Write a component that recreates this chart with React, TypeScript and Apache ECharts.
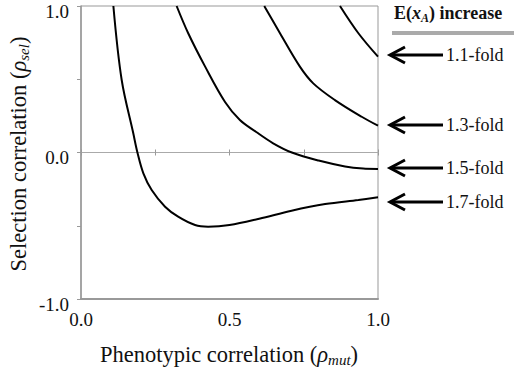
import React, { useEffect, useRef } from "react";
import * as echarts from "echarts";

const xTickLabels = ["0.0", "0.5", "1.0"];
const yTickLabels = ["1.0", "0.0", "-1.0"];

const fold11: [number, number][] = [
  [0.872, 1.0], [0.934, 0.814], [1.0, 0.654],
];
const fold13: [number, number][] = [
  [0.617, 1.0], [0.67, 0.814], [0.737, 0.586], [0.782, 0.472], [0.855, 0.358], [0.945, 0.244], [1.0, 0.183],
];
const fold15: [number, number][] = [
  [0.322, 1.0], [0.361, 0.814], [0.418, 0.586], [0.485, 0.345], [0.535, 0.222], [0.59, 0.14],
  [0.647, 0.063], [0.71, 0.0], [0.8, -0.055], [0.889, -0.095], [0.95, -0.11], [1.0, -0.113],
];
const fold17: [number, number][] = [
  [0.109, 1.0], [0.137, 0.495], [0.176, 0.131], [0.19, 0.0], [0.21, -0.142], [0.238, -0.256],
  [0.283, -0.37], [0.327, -0.438], [0.384, -0.495], [0.428, -0.506], [0.5, -0.495], [0.6, -0.452],
  [0.709, -0.397], [0.822, -0.352], [0.934, -0.324], [1.0, -0.306],
];

const seriesNames = ["1.1-fold", "1.3-fold", "1.5-fold", "1.7-fold"];
const seriesData = [fold11, fold13, fold15, fold17];
const arrowY = [55, 125, 168, 202];
const xTitle = ["Phenotypic correlation (", "ρ", "mut", ")"];
const yTitle = ["Selection correlation (", "ρ", "sel", ")"];

const SERIF = "'Liberation Serif', 'DejaVu Serif', serif";

export default function App() {
  const ref = useRef<HTMLDivElement>(null);
  useEffect(() => {
    if (!ref.current) return;
    const chart = echarts.init(ref.current, undefined, { renderer: "svg" });
    const base = { fontFamily: SERIF, color: "#111" };
    const nameRich = {
      n: { fontFamily: SERIF, fontSize: 22.5, fill: "#111", lineHeight: 26 },
      g: { fontFamily: SERIF, fontSize: 22.5, fontStyle: "italic", fill: "#111", lineHeight: 26 },
      s: { fontFamily: SERIF, fontSize: 15, fontStyle: "italic", fill: "#111", lineHeight: 17, verticalAlign: "bottom" },
    };
    const richTitle = (t: string[]) => `{n|${t[0]}}{g|${t[1]}}{s|${t[2]}}{n|${t[3]}}`;
    const graphics: any[] = [
      {
        type: "text",
        left: 394,
        top: 4,
        style: {
          text: "{b|E(}{i|x}{sub|A}{b|) increase}",
          rich: {
            b: { fontFamily: SERIF, fontSize: 18, fontWeight: "bold", fill: "#111", lineHeight: 22 },
            i: { fontFamily: SERIF, fontSize: 18, fontWeight: "bold", fontStyle: "italic", fill: "#111", lineHeight: 22 },
            sub: { fontFamily: SERIF, fontSize: 12, fontWeight: "bold", fontStyle: "italic", fill: "#111", lineHeight: 12, verticalAlign: "bottom", padding: [6, 0, 0, 0] },
          },
        },
      },
      {
        type: "line",
        shape: { x1: 392, y1: 33, x2: 514, y2: 33 },
        style: { stroke: "#aaa", lineWidth: 4 },
      },
      {
        type: "text",
        x: 229,
        y: 354,
        style: { text: richTitle(xTitle), rich: nameRich, align: "center", verticalAlign: "middle" },
      },
      {
        type: "text",
        x: 18,
        y: 154,
        rotation: Math.PI / 2,
        style: { text: richTitle(yTitle), rich: nameRich, align: "center", verticalAlign: "middle" },
      },
    ];
    seriesNames.forEach((name, i) => {
      const y = arrowY[i];
      graphics.push({
        type: "line",
        shape: { x1: 391, y1: y, x2: 443, y2: y },
        style: { stroke: "#000", lineWidth: 3 },
      });
      graphics.push({
        type: "polyline",
        shape: { points: [[405, y - 8], [390, y], [405, y + 8]] },
        style: { stroke: "#000", lineWidth: 3, fill: null },
      });
      graphics.push({
        type: "text",
        x: 446,
        y: y,
        style: { text: name, fontFamily: SERIF, fontSize: 18, fill: "#111", verticalAlign: "middle", align: "left" },
      });
    });

    const option: any = {
      animation: false,
      grid: { left: 81, top: 6, right: 136, bottom: 71, show: true, borderColor: "#999", borderWidth: 1, outerBoundsMode: "none", containLabel: false },
      xAxis: [
        {
          type: "value", min: 0, max: 1, interval: 0.5, position: "bottom",
          axisLine: { onZero: false, lineStyle: { color: "#999", width: 2 } },
          axisTick: { show: false },
          splitLine: { show: false },
          axisLabel: {
            margin: 11, fontSize: 19, ...base,
            formatter: (v: number) => xTickLabels[Math.round(v * 2)] ?? "",
          },
        },
        {
          type: "value", min: 0, max: 1, interval: 0.25, position: "bottom",
          axisLine: { onZero: true, onZeroAxisIndex: 0, lineStyle: { color: "#aaa", width: 1 } },
          axisTick: { show: true, length: 3, lineStyle: { color: "#999" } },
          axisLabel: { show: false },
          splitLine: { show: false },
        },
        {
          type: "value", min: 0, max: 1, interval: 0.25, position: "bottom",
          axisLine: { show: false, onZero: true, onZeroAxisIndex: 0 },
          axisTick: { show: true, inside: true, length: 3, lineStyle: { color: "#999" } },
          axisLabel: { show: false },
          splitLine: { show: false },
        },
      ],
      yAxis: {
        type: "value", min: -1, max: 1, interval: 0.5,
        axisLine: { show: true, onZero: false, lineStyle: { color: "#999", width: 1.5 } },
        axisTick: { show: true, length: 4, lineStyle: { color: "#999" } },
        splitLine: { show: false },
        axisLabel: {
          margin: 12, fontSize: 19, ...base, verticalAlign: "top", lineHeight: 10,
          formatter: (v: number) => {
            const idx = [1, 0, -1].findIndex((t) => Math.abs(t - v) < 1e-9);
            return idx >= 0 ? yTickLabels[idx] : "";
          },
        },
      },
      series: seriesData.map((d, i) => ({
        name: seriesNames[i],
        type: "line",
        xAxisIndex: 0,
        yAxisIndex: 0,
        data: d,
        showSymbol: false,
        smooth: 0.35,
        lineStyle: { color: "#000", width: 2 },
        clip: true,
        z: 5,
      })),
      graphic: graphics,
    };
    chart.setOption(option);
    return () => chart.dispose();
  }, []);
  return <div ref={ref} style={{ position: "fixed", left: 0, top: 0, width: 514, height: 370, background: "#fff" }} />;
}
